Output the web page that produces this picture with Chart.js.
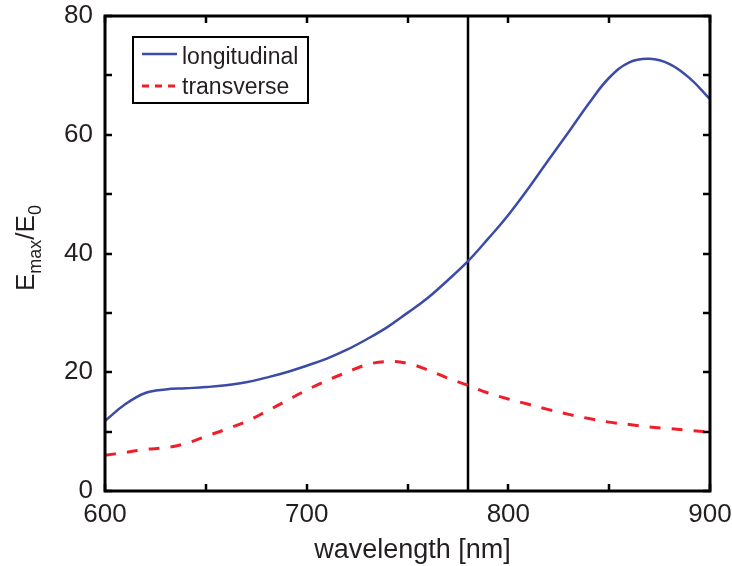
<!DOCTYPE html>
<html>
<head>
<meta charset="utf-8">
<script src="https://cdn.jsdelivr.net/npm/chart.js@4"></script>
<style>
  html, body { margin: 0; padding: 0; background: #fff; }
  #wrap { width: 732px; height: 566px; }
</style>
</head>
<body>
<div id="wrap"><canvas id="plot"></canvas></div>
<script>
// --- data ---
const wavelength = [600, 610, 620, 630, 640, 650, 660, 670, 680, 690, 700, 710, 720, 730, 740, 750,
  760, 770, 780, 790, 800, 810, 820, 830, 840, 850, 860, 870, 880, 890, 900];
const longitudinal = [11.8, 14.6, 16.5, 17.1, 17.3, 17.5, 17.8, 18.3, 19.1, 20.0, 21.1, 22.3, 23.8, 25.6, 27.6, 30.0,
  32.5, 35.5, 38.7, 42.5, 46.5, 51.0, 55.8, 60.5, 65.3, 69.6, 72.2, 72.8, 71.9, 69.5, 66.0];
const transverse = [6.0, 6.5, 7.0, 7.3, 8.0, 9.2, 10.4, 11.7, 13.4, 15.2, 17.0, 18.6, 20.0, 21.3, 21.8, 21.5,
  20.4, 19.0, 17.8, 16.5, 15.5, 14.6, 13.7, 12.9, 12.2, 11.6, 11.2, 10.8, 10.5, 10.2, 9.9];
const markerWavelength = 780;
const xTicks = [600, 700, 800, 900];
const yTicks = [0, 20, 40, 60, 80];
const seriesNames = ['longitudinal', 'transverse'];

const BLUE = '#3b4ba8';
const RED = '#ee1f2b';
const INK = '#231f20';
const FONT = '"Liberation Sans", Arial, Helvetica, sans-serif';

const toPoints = ys => wavelength.map((w, i) => ({ x: w, y: ys[i] }));

// frame, inward ticks, axis titles and the boxed legend (MATLAB look)
const matlabFrame = {
  id: 'matlabFrame',
  afterDraw(chart) {
    const { ctx, chartArea: a, scales } = chart;
    const tl = 7;
    ctx.save();
    ctx.strokeStyle = '#000';
    ctx.lineWidth = 3;
    ctx.strokeRect(a.left, a.top, a.right - a.left, a.bottom - a.top);
    ctx.lineWidth = 2.5;
    ctx.beginPath();
    scales.x.ticks.forEach(t => {
      const px = Math.round(scales.x.getPixelForValue(t.value));
      ctx.moveTo(px, a.bottom); ctx.lineTo(px, a.bottom - tl);
      ctx.moveTo(px, a.top); ctx.lineTo(px, a.top + tl);
    });
    scales.y.ticks.forEach(t => {
      const py = Math.round(scales.y.getPixelForValue(t.value));
      ctx.moveTo(a.left, py); ctx.lineTo(a.left + tl, py);
      ctx.moveTo(a.right, py); ctx.lineTo(a.right - tl, py);
    });
    ctx.stroke();

    // x title
    ctx.fillStyle = INK;
    ctx.font = '27px ' + FONT;
    ctx.textAlign = 'center';
    ctx.textBaseline = 'alphabetic';
    ctx.fillText('wavelength [nm]', (a.left + a.right) / 2 + 5, 558);

    // y title E_max / E_0, rotated
    ctx.save();
    ctx.translate(34, 291);
    ctx.rotate(-Math.PI / 2);
    ctx.textAlign = 'left';
    let cx = 0;
    const part = (txt, size, dy) => {
      ctx.font = size + 'px ' + FONT;
      ctx.fillText(txt, cx, dy);
      cx += ctx.measureText(txt).width;
    };
    part('E', 26, 0);
    part('max', 18, 7);
    part('/E', 26, 0);
    part('0', 18, 7);
    ctx.restore();

    // legend
    const lx = 133, ly = 37, lw = 175, lh = 66;
    ctx.fillStyle = '#fff';
    ctx.fillRect(lx, ly, lw, lh);
    ctx.lineWidth = 2;
    ctx.strokeStyle = '#000';
    ctx.strokeRect(lx, ly, lw, lh);
    const rows = [
      { name: seriesNames[0], color: BLUE, dash: [], y: 54, base: 64 },
      { name: seriesNames[1], color: RED, dash: [7, 6], y: 86, base: 94 }
    ];
    rows.forEach(r => {
      ctx.strokeStyle = r.color;
      ctx.lineWidth = r.dash.length ? 3 : 2.5;
      ctx.setLineDash(r.dash);
      ctx.beginPath();
      ctx.moveTo(142, r.y); ctx.lineTo(177, r.y);
      ctx.stroke();
      ctx.setLineDash([]);
      ctx.fillStyle = INK;
      ctx.font = '23px ' + FONT;
      ctx.textAlign = 'left';
      ctx.fillText(r.name, 182, r.base);
    });
    ctx.restore();
  }
};

new Chart(document.getElementById('plot'), {
  type: 'line',
  data: {
    datasets: [
      {
        label: seriesNames[0],
        data: toPoints(longitudinal),
        borderColor: BLUE,
        borderWidth: 2.5,
        pointRadius: 0,
        tension: 0.4
      },
      {
        label: seriesNames[1],
        data: toPoints(transverse),
        borderColor: RED,
        borderWidth: 3,
        borderDash: [11, 11],
        pointRadius: 0,
        tension: 0.4
      },
      {
        label: 'marker',
        data: [{ x: markerWavelength, y: 0 }, { x: markerWavelength, y: 80 }],
        borderColor: '#000',
        borderWidth: 2.5,
        pointRadius: 0
      }
    ]
  },
  options: {
    responsive: true,
    maintainAspectRatio: false,
    animation: false,
    layout: { padding: { top: 16, right: 22, left: 0, bottom: 0 } },
    plugins: { legend: { display: false }, tooltip: { enabled: false } },
    scales: {
      x: {
        type: 'linear',
        min: 600,
        max: 900,
        afterFit: s => { s.height = 75; s.paddingLeft = 0; s.paddingRight = 0; },
        grid: { display: false, drawTicks: false },
        border: { display: false },
        ticks: {
          stepSize: 50,
          autoSkip: false,
          maxRotation: 0,
          padding: 8,
          color: INK,
          font: { family: FONT, size: 26 },
          callback: v => (xTicks.includes(v) ? v : '')
        }
      },
      y: {
        min: 0,
        max: 80,
        afterFit: s => { s.width = 105; s.paddingTop = 0; s.paddingBottom = 0; },
        grid: { display: false, drawTicks: false },
        border: { display: false },
        ticks: {
          stepSize: 10,
          autoSkip: false,
          padding: 12,
          color: INK,
          font: { family: FONT, size: 26 },
          callback: v => (yTicks.includes(v) ? v : '')
        }
      }
    }
  },
  plugins: [matlabFrame]
});
</script>
</body>
</html>
